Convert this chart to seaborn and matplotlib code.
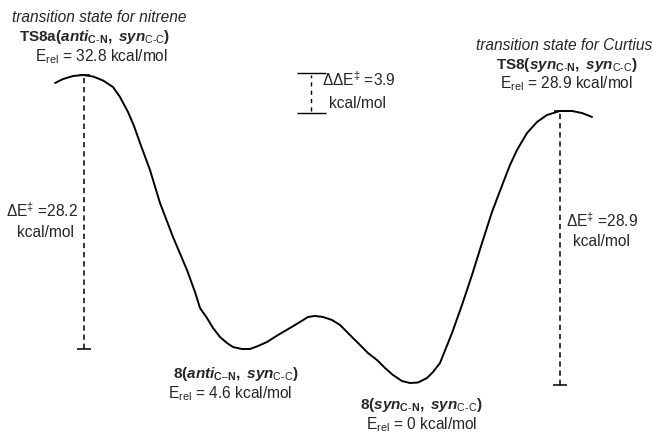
import matplotlib
matplotlib.use("Agg")
import matplotlib.pyplot as plt
import seaborn as sns
import pandas as pd

# reaction coordinate (arbitrary units) and relative energy (kcal/mol)
coord = [55, 63, 73, 83, 93, 103, 113, 120, 128, 134, 140, 150, 160, 173, 187, 195,
         200, 207, 213, 220, 227, 233, 242, 250, 258, 267, 278, 290, 300, 308, 315,
         323, 332, 340, 350, 360, 368, 377, 385, 393, 402, 410, 418, 427, 433, 440,
         446, 452, 462, 472, 482, 492, 503, 510, 517, 527, 537, 547, 560, 572, 582, 592]
energy = [31.95, 32.37, 32.69, 32.80, 32.64, 32.22, 31.52, 30.46, 28.86, 27.37,
          25.56, 22.68, 19.17, 15.55, 12.03, 9.69, 7.99, 6.92, 5.86, 4.90, 4.26,
          3.83, 3.62, 3.62, 3.94, 4.37, 5.11, 5.86, 6.50, 7.03, 7.14, 7.03, 6.71,
          6.18, 5.11, 4.05, 3.19, 2.45, 1.60, 0.85, 0.21, 0.00, 0.05, 0.53, 1.17,
          2.13, 3.73, 5.32, 8.31, 11.50, 14.91, 18.21, 21.30, 23.22, 24.81, 26.62,
          27.80, 28.54, 28.97, 28.97, 28.75, 28.33]

barrier_labels = ["28.2", "28.9"]
ddE_label = "3.9"

sns.set_theme(style="white")
plt.rcParams["font.family"] = ["Liberation Sans", "DejaVu Sans"]
plt.rcParams["mathtext.fontset"] = "custom"
plt.rcParams["mathtext.rm"] = "Liberation Sans"
plt.rcParams["mathtext.it"] = "Liberation Sans:italic"
plt.rcParams["mathtext.bf"] = "Liberation Sans:bold"
plt.rcParams["mathtext.bfit"] = "Liberation Sans:bold:italic"

df = pd.DataFrame({"coord": coord, "energy": energy})

W, H = 653, 433
fig = plt.figure(figsize=(W / 100, H / 100), dpi=100)
ax = fig.add_axes([0, 0, 1, 1])
sns.lineplot(data=df, x="coord", y="energy", sort=False, color="black", lw=1.4,
             solid_joinstyle="round", solid_capstyle="round", ax=ax)

# pixel -> energy scale of the original drawing
scale = 9.39
ax.set_xlim(0, W)
ax.set_ylim(-50 / scale, 383 / scale)
ax.axis("off")

# stationary points
e_ts1 = max(energy[:20])
e_min1 = min(energy[10:30])
e_ts2 = max(energy[40:])
e_min2 = min(energy)

dash = (0, (3.5, 2.5))
# left barrier
ax.vlines(84, e_min1, e_ts1, color="black", lw=1.1, linestyles=dash)
ax.hlines(e_min1, 77, 91, color="black", lw=1.1)
ax.hlines(e_ts1, 79, 90, color="black", lw=1.1)
# right barrier
ax.vlines(560, e_min2 - 0.2, e_ts2, color="black", lw=1.1, linestyles=dash)
ax.hlines(e_min2 - 0.2, 553, 567, color="black", lw=1.1)
ax.hlines(e_ts2, 554, 566, color="black", lw=1.1)
# delta delta E bracket
ax.hlines([e_ts1 + 0.2, e_ts2 - 0.2], 297, 326, color="black", lw=1.0)
ax.vlines(311, e_ts2, e_ts1, color="black", lw=1.0, linestyles=(0, (3, 3)))


def put(x, y, s, **kw):
    fig.text(x / W, 1 - y / H, s, va="center", **kw)


fs = 11.2
fb = 11
put(12, 17, "transition state for nitrene", style="italic", fontsize=fs)
put(95, 37, r"$\mathbf{TS8a(}\mathbfit{anti}_{\mathbf{C\text{-}N}}\mathbf{,\ }\mathbfit{syn}_{\mathrm{C\text{-}C}}\mathbf{)}$",
    fontsize=fb, ha="center")
put(101, 57, r"E$_{\mathrm{rel}}$ = 32.8 kcal/mol", fontsize=fs, ha="center")

put(652, 45, "transition state for Curtius", style="italic", fontsize=fs, ha="right")
put(567, 65, r"$\mathbf{TS8(}\mathbfit{syn}_{\mathbf{C\text{-}N}}\mathbf{,\ }\mathbfit{syn}_{\mathrm{C\text{-}C}}\mathbf{)}$",
    fontsize=fb, ha="center")
put(566, 84, r"E$_{\mathrm{rel}}$ = 28.9 kcal/mol", fontsize=fs, ha="center")

put(322, 80, r"$\Delta\Delta$E$^{\ddag}$ =" + ddE_label, fontsize=fs)
put(329, 104, "kcal/mol", fontsize=fs)

put(42, 211, r"$\Delta$E$^{\ddag}$ =" + barrier_labels[0], fontsize=fs, ha="center")
put(46, 233, "kcal/mol", fontsize=fs, ha="center")
put(602, 221, r"$\Delta$E$^{\ddag}$ =" + barrier_labels[1], fontsize=fs, ha="center")
put(601, 242, "kcal/mol", fontsize=fs, ha="center")

put(236, 374, r"$\mathbf{8(}\mathbfit{anti}_{\mathbf{C\text{–}N}}\mathbf{,\ }\mathbfit{syn}_{\mathrm{C\text{-}C}}\mathbf{)}$",
    fontsize=fb, ha="center")
put(230, 394, r"E$_{\mathrm{rel}}$ = 4.6 kcal/mol", fontsize=fs, ha="center")
put(421, 405, r"$\mathbf{8(}\mathbfit{syn}_{\mathbf{C\text{-}N}}\mathbf{,\ }\mathbfit{syn}_{\mathrm{C\text{-}C}}\mathbf{)}$",
    fontsize=fb, ha="center")
put(422, 425, r"E$_{\mathrm{rel}}$ = 0 kcal/mol", fontsize=fs, ha="center")

fig.savefig("out.png", dpi=100)
